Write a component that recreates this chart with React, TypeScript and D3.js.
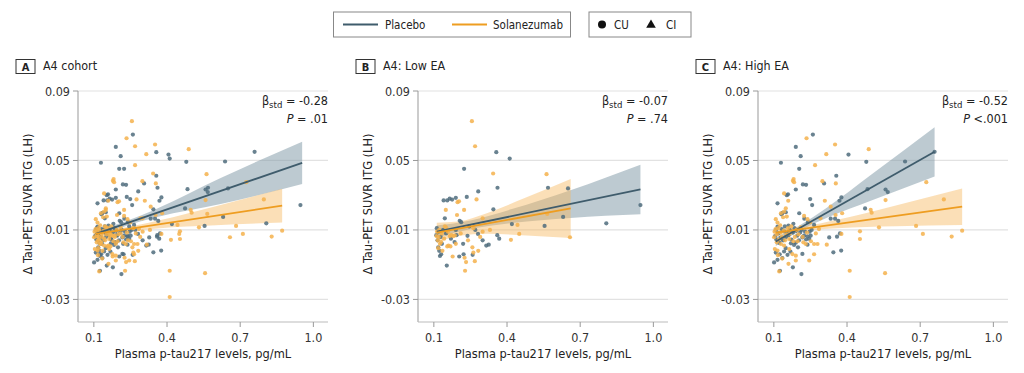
import * as d3 from 'd3'
import { FC } from 'react'

type Pt = [number, number]
type Band = [number, number, number] // x, lower, upper

const xTicks = [0.1, 0.4, 0.7, 1.0]
const yTicks = [-0.03, 0.01, 0.05, 0.09]
const panelLetters = ['A', 'B', 'C']
const panelTitles = ['A4 cohort', 'A4: Low EA', 'A4: High EA']
const betaValues = ['-0.28', '-0.07', '-0.52']
const pValues = ['= .01', '= .74', '<.001']

// low EA participants
const lowPlacebo: Pt[] = [
    [0.112, 0.011], [0.115, 0.004], [0.118, 0.000], [0.122, -0.002], [0.125, -0.005], [0.130, -0.004],
    [0.133, 0.002], [0.145, 0.0167], [0.140, 0.027], [0.155, 0.027], [0.165, 0.028], [0.175, 0.0275],
    [0.190, 0.0285], [0.235, 0.029], [0.153, -0.0105], [0.190, 0.010], [0.193, 0.007], [0.206, 0.0153],
    [0.212, 0.0145], [0.204, -0.0053], [0.220, 0.002], [0.222, -0.004], [0.238, 0.0066], [0.259, -0.0043],
    [0.281, 0.0077], [0.282, 0.0322], [0.224, 0.0452], [0.315, 0.001], [0.325, 0.0015], [0.344, 0.0219],
    [0.356, 0.0548], [0.360, 0.007], [0.368, 0.005], [0.361, 0.0343], [0.411, 0.0511], [0.420, 0.0134],
    [0.554, 0.0123], [0.568, 0.0343], [0.630, 0.0175], [0.650, 0.0339], [0.807, 0.0138], [0.947, 0.0243],
    [0.110, 0.007], [0.120, 0.009], [0.128, 0.006], [0.138, 0.010], [0.150, 0.008], [0.170, 0.005],
    [0.185, 0.003], [0.245, 0.012], [0.270, 0.010], [0.300, 0.004],
]
const lowSolan: Pt[] = [
    [0.113, 0.009], [0.116, 0.004], [0.118, -0.0005], [0.120, 0.006], [0.125, 0.002], [0.130, 0.003],
    [0.135, -0.002], [0.145, 0.012], [0.150, 0.0115], [0.149, 0.0215], [0.155, 0.0005], [0.160, 0.001],
    [0.165, 0.0065], [0.168, 0.0005], [0.172, 0.007], [0.177, -0.0053], [0.180, 0.0065], [0.186, 0.0068],
    [0.195, 0.0186], [0.197, 0.026], [0.203, 0.0265], [0.224, 0.0215], [0.226, -0.006], [0.228, -0.0135],
    [0.232, -0.0085], [0.256, 0.0726], [0.258, 0.000], [0.262, 0.011], [0.262, -0.003], [0.268, -0.008],
    [0.269, 0.0582], [0.275, 0.0276], [0.282, -0.002], [0.300, 0.0167], [0.300, 0.009], [0.343, 0.0425],
    [0.416, 0.0043], [0.443, 0.0129], [0.450, 0.0077], [0.562, 0.0421], [0.565, 0.0192], [0.658, 0.0058],
    [0.111, 0.0065], [0.122, 0.010], [0.132, 0.008], [0.142, 0.005], [0.158, 0.009], [0.190, 0.002],
    [0.210, 0.008], [0.240, 0.004], [0.290, 0.006], [0.330, 0.010],
]

// high EA participants
const highPlacebo: Pt[] = [
    [0.260, 0.0649], [0.190, 0.0578], [0.210, 0.0525], [0.406, 0.0534], [0.129, 0.0487], [0.479, 0.0492],
    [0.204, 0.0452], [0.356, 0.0412], [0.306, 0.0368], [0.232, 0.036], [0.219, 0.0362], [0.190, 0.0333],
    [0.153, 0.030], [0.158, 0.0305], [0.115, 0.0253], [0.249, 0.0278], [0.377, 0.0287], [0.369, 0.0268],
    [0.257, 0.0243], [0.204, 0.0196], [0.474, 0.0224], [0.484, 0.0335], [0.558, 0.0333], [0.567, 0.0318],
    [0.333, 0.0165], [0.131, 0.019], [0.135, 0.0198], [0.149, 0.0202], [0.108, 0.0100], [0.115, 0.0119],
    [0.142, 0.0092], [0.155, 0.0083], [0.196, 0.0067], [0.217, 0.0057], [0.224, 0.0067], [0.238, 0.0063],
    [0.245, 0.0049], [0.251, 0.0067], [0.170, 0.0023], [0.183, 0.0014], [0.190, 0.0027], [0.149, -0.0005],
    [0.142, -0.0024], [0.156, -0.0043], [0.135, -0.0062], [0.101, -0.0087], [0.115, -0.0072], [0.125, -0.0135],
    [0.213, -0.0154], [0.178, -0.0115], [0.199, 0.0000], [0.217, -0.0038], [0.238, 0.0015], [0.327, 0.0057],
    [0.359, 0.0061], [0.371, 0.0080], [0.344, -0.0029], [0.376, -0.0019], [0.265, 0.0129], [0.351, 0.0165],
    [0.364, 0.0152], [0.759, 0.0550], [0.638, 0.0494], [0.225, 0.0165], [0.240, 0.0145], [0.180, 0.0135],
    [0.160, 0.0125], [0.105, 0.0065], [0.110, 0.0045], [0.118, 0.0080], [0.122, 0.0025], [0.128, 0.0055],
    [0.132, 0.0105], [0.138, 0.0040], [0.145, 0.0120], [0.150, 0.0060], [0.160, 0.0070], [0.165, 0.0100],
    [0.172, 0.0045], [0.178, 0.0085], [0.185, 0.0110], [0.192, 0.0095], [0.203, 0.0040], [0.208, 0.0085],
    [0.214, 0.0100], [0.228, 0.0090], [0.232, 0.0045], [0.247, 0.0090], [0.255, 0.0100], [0.168, -0.0025],
    [0.124, -0.0040], [0.108, -0.0030],
]
const highSolan: Pt[] = [
    [0.234, 0.0628], [0.351, 0.0592], [0.315, 0.0536], [0.489, 0.0565], [0.269, 0.0473], [0.181, 0.0393],
    [0.183, 0.0375], [0.178, 0.0383], [0.299, 0.0381], [0.354, 0.0368], [0.309, 0.0268], [0.142, 0.031],
    [0.159, 0.0268], [0.149, 0.0225], [0.142, 0.0206], [0.129, 0.0196], [0.138, 0.0173], [0.153, 0.0177],
    [0.333, 0.0234], [0.497, 0.0215], [0.501, 0.0199], [0.558, 0.0272], [0.108, 0.0162], [0.115, 0.0143],
    [0.126, 0.0127], [0.101, 0.0058], [0.112, 0.0029], [0.104, -0.0010], [0.115, -0.0019], [0.163, 0.0048],
    [0.180, 0.0035], [0.197, 0.0035], [0.221, 0.0029], [0.231, 0.0019], [0.129, 0.0019], [0.142, 0.0010],
    [0.163, -0.0010], [0.176, -0.0039], [0.190, -0.0048], [0.245, -0.0076], [0.190, -0.0076], [0.265, 0.0019],
    [0.279, 0.0019], [0.317, 0.0015], [0.377, 0.0077], [0.453, 0.0092], [0.453, 0.0048], [0.411, -0.0135],
    [0.556, -0.0149], [0.411, -0.0286], [0.224, 0.0181], [0.238, 0.0162], [0.249, 0.0143], [0.291, 0.0167],
    [0.353, 0.0186], [0.380, 0.0196], [0.122, -0.0139], [0.265, -0.0040], [0.725, 0.0375], [0.797, 0.0276],
    [0.683, 0.0123], [0.531, 0.0115], [0.711, 0.0077], [0.829, 0.0062], [0.872, 0.0096], [0.103, 0.0090],
    [0.107, 0.0105], [0.112, 0.0075], [0.118, 0.0110], [0.121, 0.0045], [0.127, 0.0085], [0.133, 0.0060],
    [0.140, 0.0095], [0.146, 0.0040], [0.152, 0.0075], [0.158, 0.0110], [0.166, 0.0080], [0.171, 0.0120],
    [0.186, 0.0060], [0.193, 0.0100], [0.201, 0.0075], [0.210, 0.0115], [0.218, 0.0060], [0.236, 0.0085],
    [0.252, 0.0035], [0.272, 0.0080], [0.285, 0.0105], [0.117, -0.0045], [0.134, -0.0065], [0.160, -0.0095],
]

// fitted lines
const fitPlaceboA: Pt[] = [[0.108, 0.0077], [0.954, 0.0486]]
const fitSolanA: Pt[] = [[0.108, 0.0077], [0.872, 0.0240]]
const fitPlaceboB: Pt[] = [[0.112, 0.0090], [0.947, 0.0333]]
const fitSolanB: Pt[] = [[0.112, 0.0085], [0.661, 0.0224]]
const fitPlaceboC: Pt[] = [[0.108, 0.0033], [0.759, 0.0550]]
const fitSolanC: Pt[] = [[0.108, 0.0085], [0.872, 0.0234]]

// 95% CI bands
const bandPlaceboA: Band[] = [[0.108, 0.0055, 0.0099], [0.22, 0.0117, 0.0145], [0.36, 0.0174, 0.0224], [0.62, 0.0249, 0.0399], [0.954, 0.0364, 0.0608]]
const bandSolanA: Band[] = [[0.108, 0.0057, 0.0097], [0.22, 0.0089, 0.0113], [0.36, 0.0109, 0.0153], [0.6, 0.0127, 0.0237], [0.872, 0.0143, 0.0337]]
const bandPlaceboB: Band[] = [[0.112, 0.0055, 0.0125], [0.25, 0.0105, 0.0155], [0.42, 0.0140, 0.0220], [0.66, 0.0169, 0.0329], [0.947, 0.0190, 0.0476]]
const bandSolanB: Band[] = [[0.112, 0.0028, 0.0142], [0.2, 0.0065, 0.0149], [0.32, 0.0078, 0.0198], [0.48, 0.0068, 0.0288], [0.661, 0.0054, 0.0394]]
const bandPlaceboC: Band[] = [[0.108, 0.0008, 0.0058], [0.2, 0.0090, 0.0122], [0.32, 0.0171, 0.0231], [0.5, 0.0269, 0.0419], [0.759, 0.0408, 0.0692]]
const bandSolanC: Band[] = [[0.108, 0.0063, 0.0107], [0.22, 0.0094, 0.0120], [0.36, 0.0110, 0.0158], [0.6, 0.0121, 0.0241], [0.872, 0.0129, 0.0339]]

const PLACEBO = '#3f5c6c'
const SOLAN = '#ee9d21'
const FONT = "'DejaVu Sans Condensed', 'Liberation Sans Narrow', Roboto, sans-serif"

const panels = [
    { placebo: [...lowPlacebo, ...highPlacebo], solan: [...lowSolan, ...highSolan], fitP: fitPlaceboA, fitS: fitSolanA, bandP: bandPlaceboA, bandS: bandSolanA },
    { placebo: lowPlacebo, solan: lowSolan, fitP: fitPlaceboB, fitS: fitSolanB, bandP: bandPlaceboB, bandS: bandSolanB },
    { placebo: highPlacebo, solan: highSolan, fitP: fitPlaceboC, fitS: fitSolanC, bandP: bandPlaceboC, bandS: bandSolanC },
]

const Panel: FC<{ i: number }> = ({ i }) => {
    const off = i * 340
    const p = panels[i]
    const x = d3.scaleLinear().domain([0.035, 1.06]).range([78 + off, 328 + off])
    const y = d3.scaleLinear().domain([-0.043, 0.09]).range([322, 91])
    const area = d3.area<Band>()
        .x(d => x(d[0]))
        .y0(d => y(d[1]))
        .y1(d => y(d[2]))
        .curve(d3.curveMonotoneX)
    const line = d3.line<Pt>().x(d => x(d[0])).y(d => y(d[1]))
    const [x0, x1] = x.range()
    return (
        <g>
            {/* header */}
            <rect x={16 + off} y={59.5} width={19} height={14} fill="none" stroke="#333" strokeWidth={1} />
            <text x={25.5 + off} y={71} textAnchor="middle" fontSize={11} fontWeight="bold" fill="#222">{panelLetters[i]}</text>
            <text x={43 + off} y={70} fontSize={12.4} fill="#222">{panelTitles[i]}</text>

            {/* grid */}
            {yTicks.map(t => (
                <g key={t}>
                    <line x1={x0} x2={x1} y1={y(t)} y2={y(t)} stroke="#e2e2e2" strokeWidth={1.2} />
                    <line x1={x0 - 5} x2={x0} y1={y(t)} y2={y(t)} stroke="#999" />
                    <text x={x0 - 8} y={y(t) + 4.5} textAnchor="end" fontSize={12.5} fill="#333">{t.toFixed(2)}</text>
                </g>
            ))}
            <line x1={x0} x2={x0} y1={y(0.09)} y2={322} stroke="#999" />
            <line x1={x0} x2={x1} y1={322} y2={322} stroke="#bbb" />
            {xTicks.map(t => (
                <g key={t}>
                    <line x1={x(t)} x2={x(t)} y1={322} y2={327} stroke="#999" />
                    <text x={x(t)} y={342} textAnchor="middle" fontSize={12.5} fill="#333">{t.toFixed(1)}</text>
                </g>
            ))}
            <text x={(x0 + x1) / 2 - 0} y={358} textAnchor="middle" fontSize={12.7} fill="#222">Plasma p-tau217 levels, pg/mL</text>
            <text transform={`translate(${32 + off},204) rotate(-90)`} textAnchor="middle" fontSize={12.7} fill="#222">Δ Tau-PET SUVR ITG (LH)</text>

            {/* bands */}
            <path d={area(p.bandP) ?? ''} fill="#7b95a3" fillOpacity={0.5} />
            <path d={area(p.bandS) ?? ''} fill="#f7b860" fillOpacity={0.45} />

            {/* points */}
            {p.placebo.map((d, k) => (
                <circle key={'p' + k} cx={x(d[0])} cy={y(d[1])} r={2.1} fill="#4f6c7c" fillOpacity={0.85} />
            ))}
            {p.solan.map((d, k) => (
                <circle key={'s' + k} cx={x(d[0])} cy={y(d[1])} r={2.1} fill="#f5b24c" fillOpacity={0.85} />
            ))}

            {/* fits */}
            <path d={line(p.fitP) ?? ''} fill="none" stroke={PLACEBO} strokeWidth={1.8} />
            <path d={line(p.fitS) ?? ''} fill="none" stroke={SOLAN} strokeWidth={1.8} />

            {/* stats */}
            <text x={x1} y={105} textAnchor="end" fontSize={12.5} fill="#222">
                β<tspan fontSize={9.5} dy={3}>std</tspan><tspan dy={-3}>{' = ' + betaValues[i]}</tspan>
            </text>
            <text x={x1} y={123} textAnchor="end" fontSize={12.5} fill="#222">
                <tspan fontStyle="italic">P</tspan>{' ' + pValues[i]}
            </text>
        </g>
    )
}

const App: FC = () => {
    return (
        <svg width={1024} height={373} style={{ position: 'absolute', left: 0, top: 0, fontFamily: FONT }}>
            <rect width={1024} height={373} fill="white" />
            {/* legend */}
            <rect x={333.5} y={12} width={237} height={25} fill="white" stroke="#888" />
            <line x1={343} x2={378} y1={24.5} y2={24.5} stroke={PLACEBO} strokeWidth={2} />
            <text x={385} y={29} fontSize={11.5} fill="#222">Placebo</text>
            <line x1={452} x2={487} y1={24.5} y2={24.5} stroke={SOLAN} strokeWidth={2} />
            <text x={493} y={29} fontSize={11.5} fill="#222">Solanezumab</text>
            <rect x={589} y={12} width={102} height={25} fill="white" stroke="#888" />
            <circle cx={602} cy={24.5} r={4} fill="#111" />
            <text x={614} y={29} fontSize={11.5} fill="#222">CU</text>
            <path d={d3.symbol(d3.symbolTriangle, 40)() ?? ''} transform="translate(651,25)" fill="#111" />
            <text x={666} y={29} fontSize={11.5} fill="#222">CI</text>
            {panelLetters.map((_, i) => <Panel key={i} i={i} />)}
        </svg>
    )
}

export default App
